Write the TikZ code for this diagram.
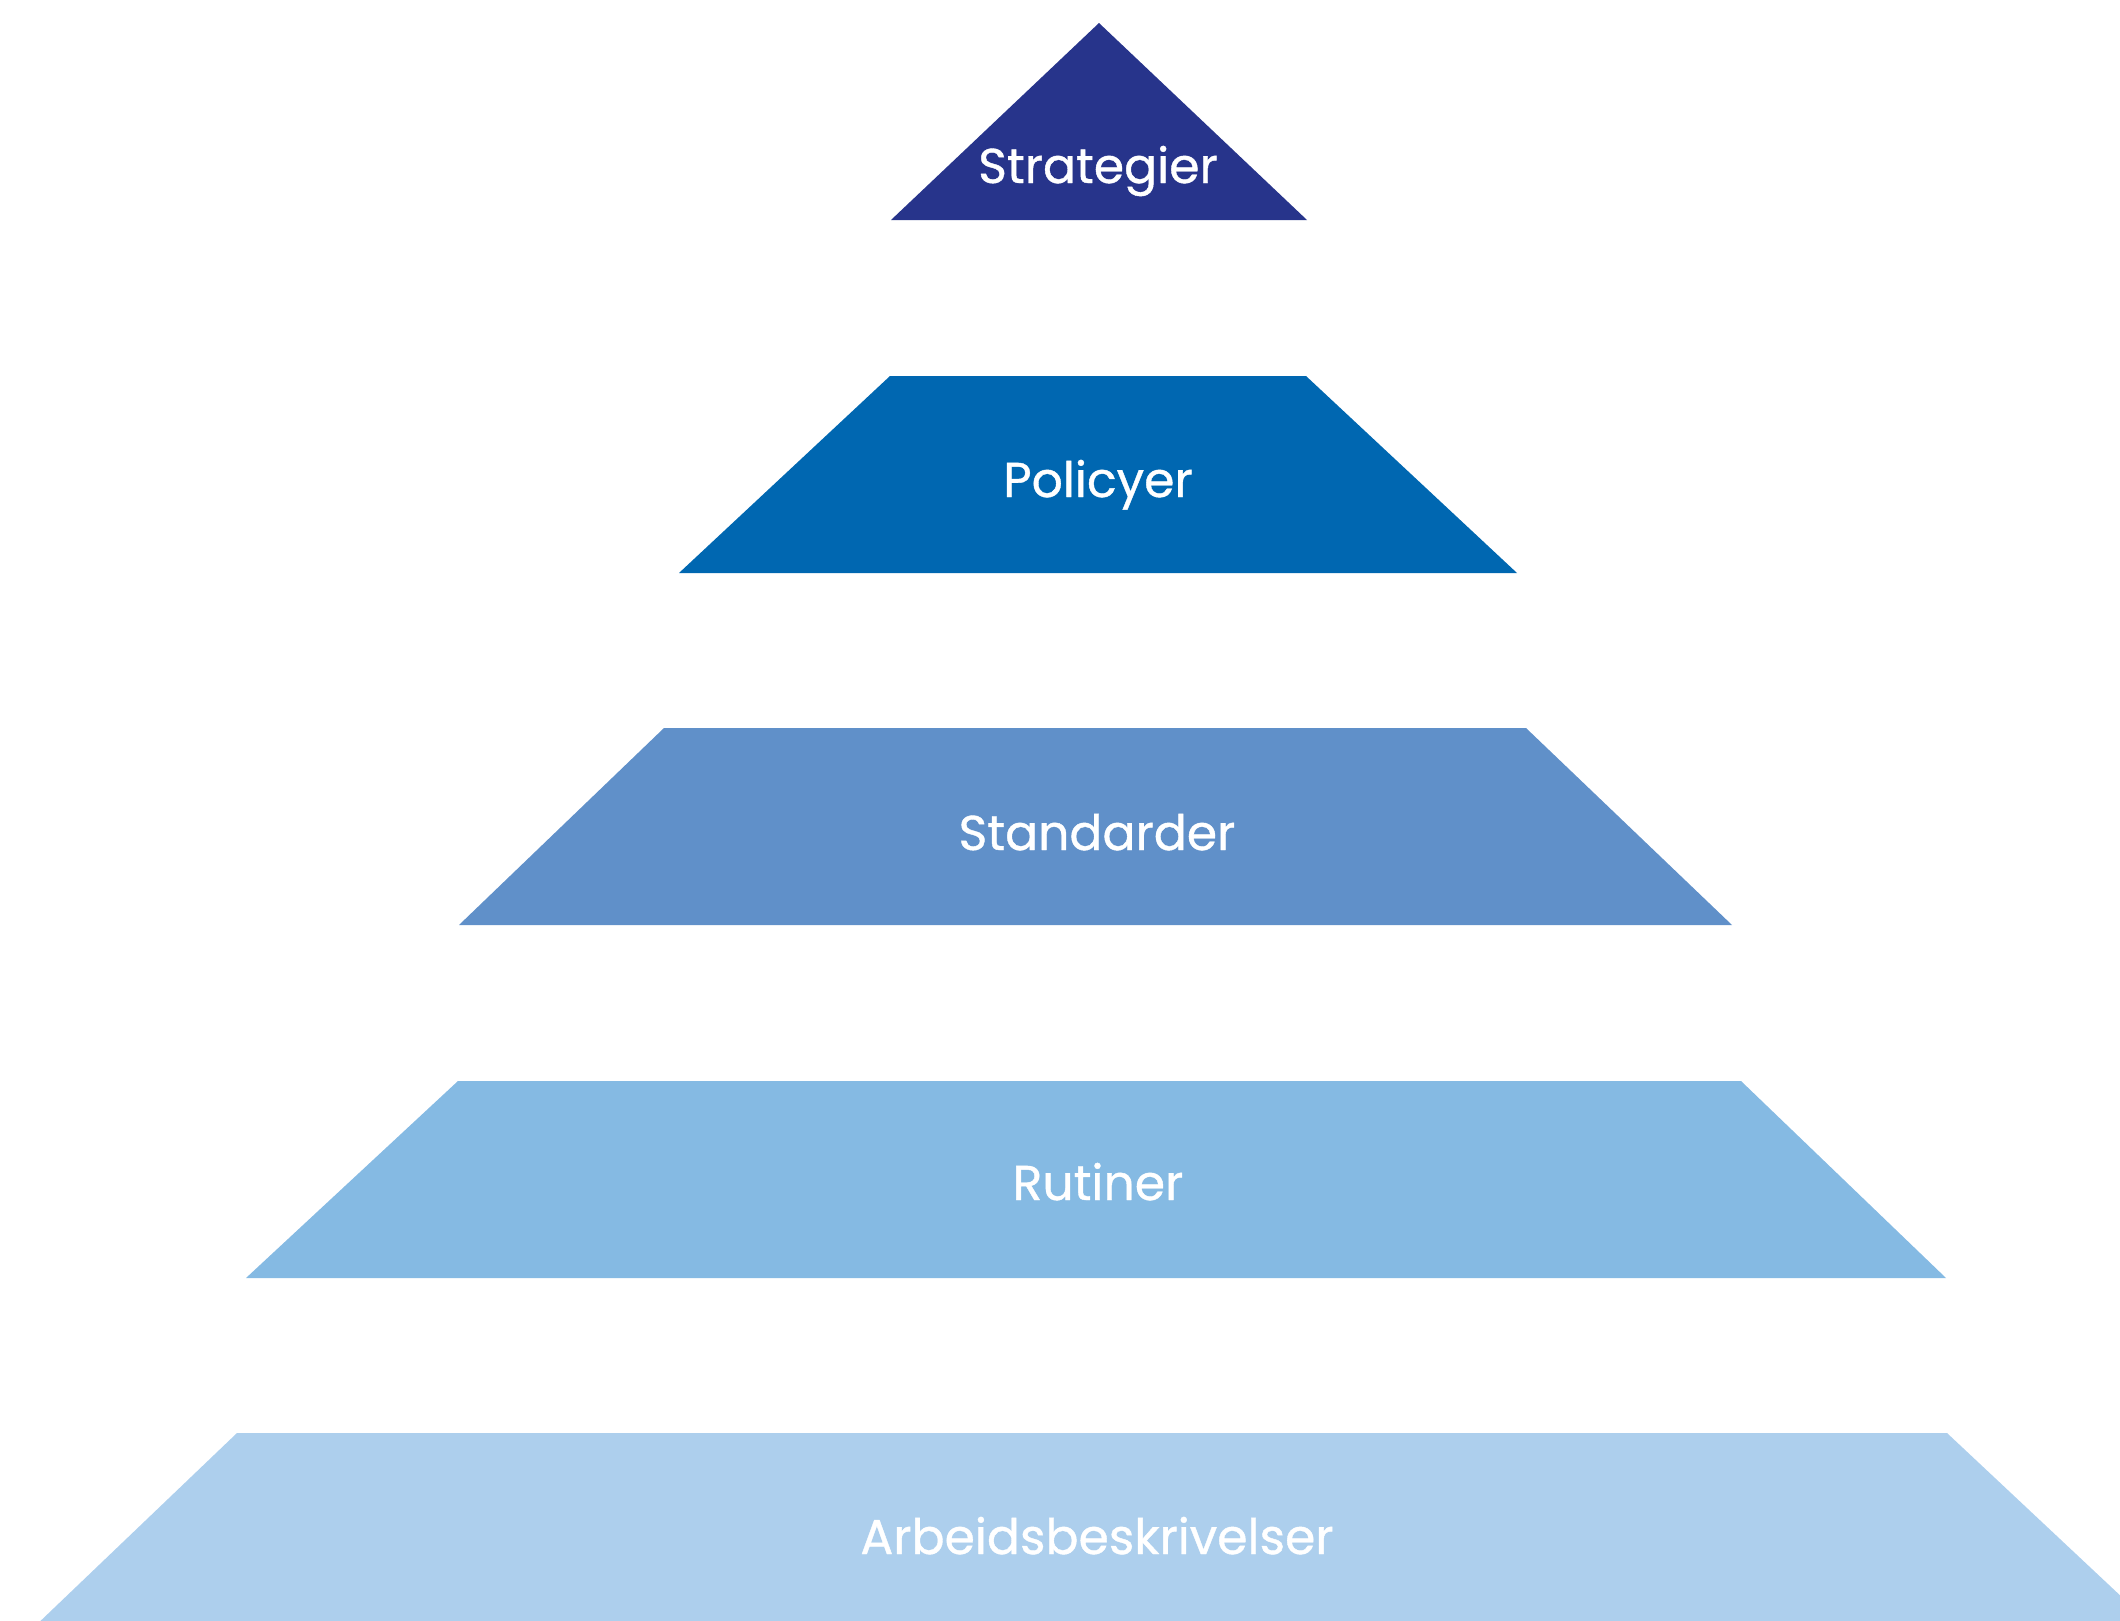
\documentclass[tikz,border=0pt]{standalone}
\usepackage{fontspec}
\setmainfont{Poppins}[Ligatures=NoCommon]
\newfontfamily\lblfont{Poppins}[Ligatures=NoCommon, FakeBold=0.8]
\definecolor{lvA}{HTML}{27348B}
\definecolor{lvB}{HTML}{0067B1}
\definecolor{lvC}{HTML}{6090C9}
\definecolor{lvD}{HTML}{85BAE3}
\definecolor{lvE}{HTML}{ADCFED}
\tikzset{
  lvlabel/.style={text=white, anchor=base, inner sep=0pt, font=\lblfont\fontsize{13.9pt}{16pt}\selectfont}
}
\begin{document}
\begin{tikzpicture}[x=0.01cm, y=-0.01cm]
\useasboundingbox (0,0) rectangle (2120,1621);
\clip (0,0) rectangle (2120,1621);
% level 1
\fill[lvA] (1099,23) -- (1307,220) -- (891,220) -- cycle;
\node[lvlabel] (strategier) at (1098,183) {Strategier};
% level 2
\fill[lvB] (890,376) -- (1306,376) -- (1517,573) -- (679,573) -- cycle;
\node[lvlabel] (policyer) at (1098,497) {Policyer};
% level 3
\fill[lvC] (664,728) -- (1526,728) -- (1732,925) -- (459,925) -- cycle;
\node[lvlabel] (standarder) at (1097,850) {Standarder};
% level 4
\fill[lvD] (458,1081) -- (1741,1081) -- (1946,1278) -- (246,1278) -- cycle;
\node[lvlabel] (rutiner) at (1098,1200) {Rutiner};
% level 5
\fill[lvE] (237,1433) -- (1947,1433) -- (2157,1630) -- (31,1630) -- cycle;
\node[lvlabel] (arbeid) at (1097,1554) {Arbeidsbeskrivelser};
\end{tikzpicture}
\end{document}
